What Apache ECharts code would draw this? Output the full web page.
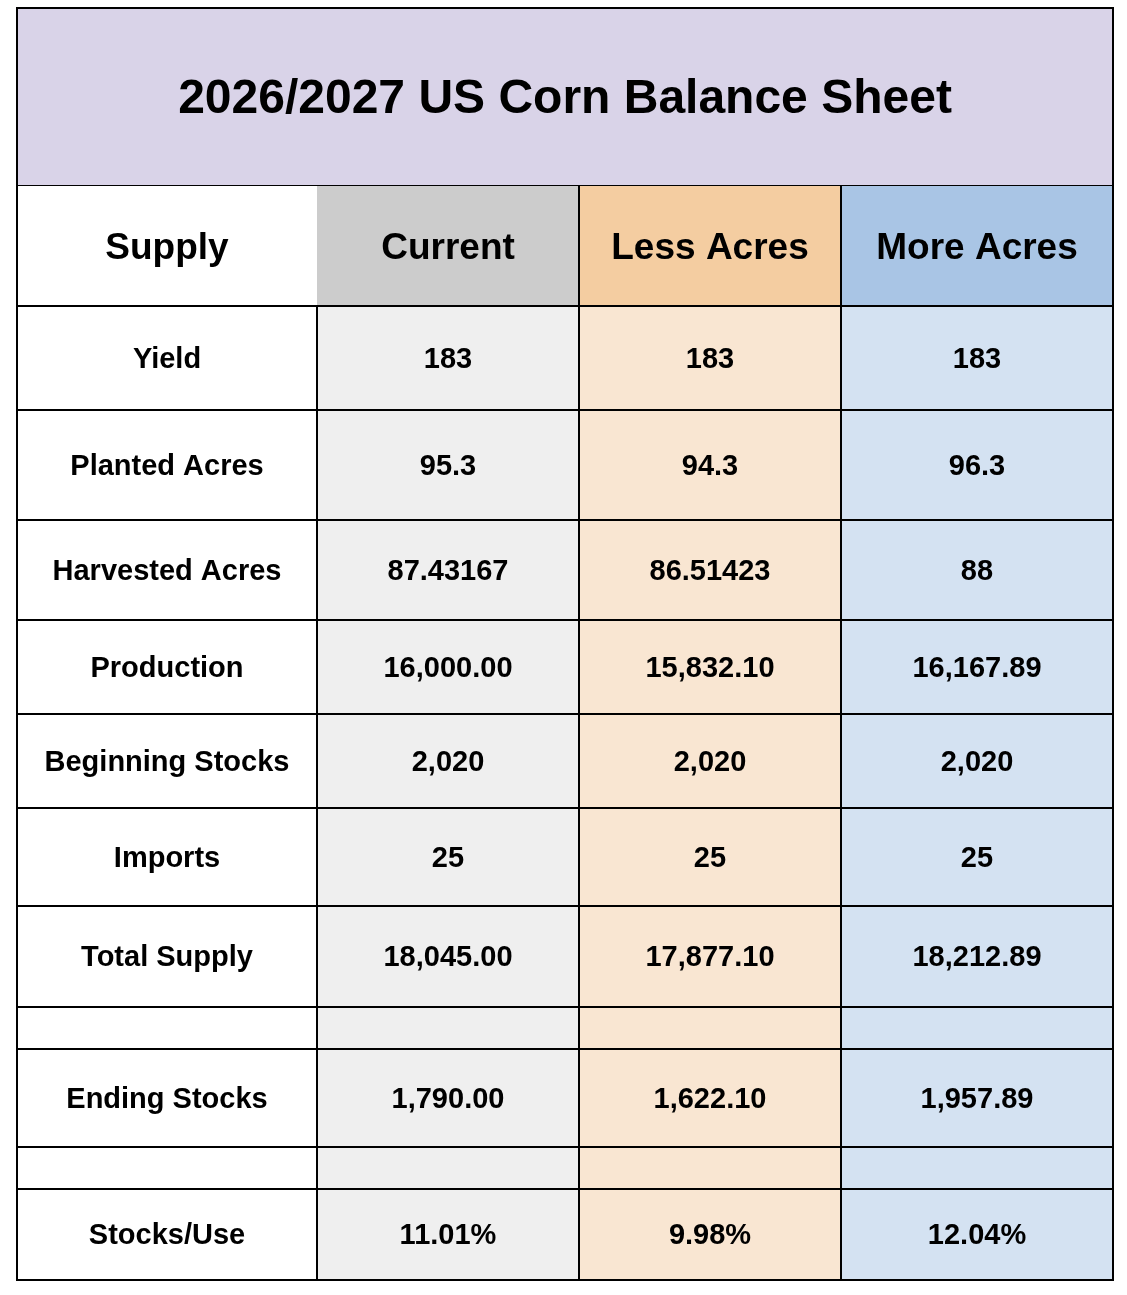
<!DOCTYPE html>
<html>
<head>
<meta charset="utf-8">
<script src="https://cdn.jsdelivr.net/npm/echarts@6/dist/echarts.min.js"></script>
<style>
  html, body { margin: 0; background: #fff; }
  #main { width: 1127px; height: 1295px; }
</style>
</head>
<body>
<div id="main"></div>
<script>
// ---- data
const title = '2026/2027 US Corn Balance Sheet';
const headerLabel = 'Supply';
const scenarios = ['Current', 'Less Acres', 'More Acres'];
const rowLabels = ['Yield', 'Planted Acres', 'Harvested Acres', 'Production', 'Beginning Stocks',
  'Imports', 'Total Supply', '', 'Ending Stocks', '', 'Stocks/Use'];
const currentValues = [183, 95.3, 87.43167, 16000.00, 2020, 25, 18045.00, null, 1790.00, null, 11.01];
const lessAcresValues = [183, 94.3, 86.51423, 15832.10, 2020, 25, 17877.10, null, 1622.10, null, 9.98];
const moreAcresValues = [183, 96.3, 88, 16167.89, 2020, 25, 18212.89, null, 1957.89, null, 12.04];
// how each row is printed
const rowFormats = ['plain', 'plain', 'plain', 'money', 'comma', 'plain', 'money', '', 'money', '', 'pct'];

// ---- layout (table units = px)
const colEdges = [0, 300, 562, 824, 1096];
const rowEdges = [0, 178, 298, 402, 512, 612, 706, 800, 898, 999, 1041, 1139, 1181, 1272];
const titleFill = '#d9d3e8';
const headerFill = ['#ffffff', '#cccccc', '#f4cda1', '#a9c5e5'];
const bodyFill = ['#ffffff', '#efefef', '#f9e6d2', '#d4e2f2'];
const FONT = '"Liberation Sans", Arial, Helvetica, sans-serif';

function fmt(v, kind) {
  if (v === null || v === undefined) return '';
  switch (kind) {
    case 'money': return v.toLocaleString('en-US', { minimumFractionDigits: 2, maximumFractionDigits: 2 });
    case 'comma': return v.toLocaleString('en-US');
    case 'pct': return v.toFixed(2) + '%';
    default: return String(v);
  }
}

// build cells: [col0, col1, row, kind, text, fill]
let cells = [];
cells.push([0, 4, 0, 'title', title, titleFill]);
cells.push([0, 1, 1, 'header', headerLabel, headerFill[0]]);
scenarios.forEach(function (s, i) {
  cells.push([i + 1, i + 2, 1, 'header', s, headerFill[i + 1]]);
});
let seriesValues = [currentValues, lessAcresValues, moreAcresValues];
rowLabels.forEach(function (label, r) {
  cells.push([0, 1, r + 2, 'body', label, bodyFill[0]]);
  seriesValues.forEach(function (vals, i) {
    cells.push([i + 1, i + 2, r + 2, 'body', fmt(vals[r], rowFormats[r]), bodyFill[i + 1]]);
  });
});
cells.push([0, 4, -1, 'frame', '', null]);

function renderItem(params, api) {
  const c0 = api.value(0), c1 = api.value(1), r = api.value(2);
  const cell = cells[params.dataIndex];
  const kind = cell[3];
  let top = r < 0 ? rowEdges[0] : rowEdges[r];
  let bottom = r < 0 ? rowEdges[rowEdges.length - 1] : rowEdges[r + 1];
  const p0 = api.coord([colEdges[c0], top]);
  const p1 = api.coord([colEdges[c1], bottom]);
  const x = Math.min(p0[0], p1[0]), y = Math.min(p0[1], p1[1]);
  const w = Math.abs(p1[0] - p0[0]), h = Math.abs(p1[1] - p0[1]);

  if (kind === 'frame') {
    return {
      type: 'rect', z2: 100,
      shape: { x: x, y: y, width: w, height: h },
      style: { fill: null, stroke: '#000', lineWidth: 2 }
    };
  }

  let children = [{
    type: 'rect',
    shape: { x: x, y: y, width: w, height: h },
    style: {
      fill: cell[5],
      stroke: kind === 'header' ? null : '#000',
      lineWidth: 2
    }
  }];
  if (kind === 'header' && c0 >= 2) {
    children.push({
      type: 'line', z2: 10,
      shape: { x1: x, y1: y, x2: x, y2: y + h },
      style: { stroke: '#000', lineWidth: 2 }
    });
  }
  let size = kind === 'title' ? 48 : (kind === 'header' ? 37 : 29);
  let nudge = kind === 'body' ? 1.5 : 3;
  children.push({
    type: 'text', z2: 20,
    style: {
      text: cell[4],
      x: x + w / 2,
      y: y + h / 2 + nudge,
      align: 'center',
      verticalAlign: 'middle',
      fontSize: size,
      fontWeight: 'bold',
      fontFamily: FONT,
      fill: '#000'
    }
  });
  return { type: 'group', children: children };
}

let chart = echarts.init(document.getElementById('main'));
chart.setOption({
  animation: false,
  grid: { left: 17, top: 8, width: 1096, height: 1272 },
  xAxis: { type: 'value', min: 0, max: colEdges[colEdges.length - 1], show: false },
  yAxis: { type: 'value', min: 0, max: rowEdges[rowEdges.length - 1], inverse: true, show: false },
  series: [{
    type: 'custom',
    renderItem: renderItem,
    data: cells.map(function (c) { return [c[0], c[1], c[2]]; }),
    silent: true
  }]
});
</script>
</body>
</html>
